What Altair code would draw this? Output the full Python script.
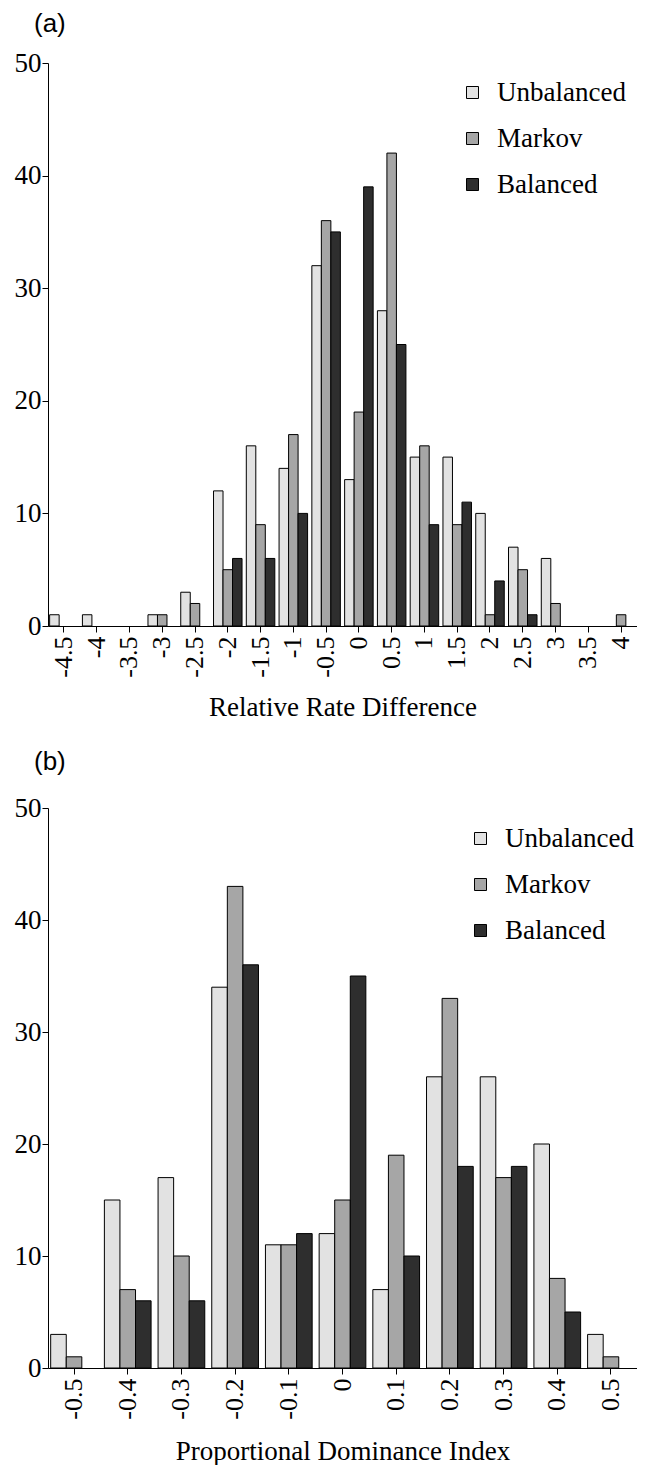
import altair as alt
import pandas as pd

series = ["Unbalanced", "Markov", "Balanced"]
colors = ["#e2e2e2", "#a6a6a6", "#2e2e2e"]

cats_a = ["-4.5", "-4", "-3.5", "-3", "-2.5", "-2", "-1.5", "-1", "-0.5",
          "0", "0.5", "1", "1.5", "2", "2.5", "3", "3.5", "4"]
unb_a = [1, 1, 0, 1, 3, 12, 16, 14, 32, 13, 28, 15, 15, 10, 7, 6, 0, 0]
mar_a = [0, 0, 0, 1, 2, 5, 9, 17, 36, 19, 42, 16, 9, 1, 5, 2, 0, 1]
bal_a = [0, 0, 0, 0, 0, 6, 6, 10, 35, 39, 25, 9, 11, 4, 1, 0, 0, 0]

cats_b = ["-0.5", "-0.4", "-0.3", "-0.2", "-0.1", "0", "0.1", "0.2", "0.3", "0.4", "0.5"]
unb_b = [3, 15, 17, 34, 11, 12, 7, 26, 26, 20, 3]
mar_b = [1, 7, 10, 43, 11, 15, 19, 33, 17, 8, 1]
bal_b = [0, 6, 6, 36, 12, 35, 10, 18, 18, 5, 0]

y_ticks = [0, 10, 20, 30, 40, 50]

SERIF = "Liberation Serif"
SANS = "Liberation Sans"
W = 589


def make_df(cats, u, m, b):
    rows = []
    for name, vals in zip(series, [u, m, b]):
        for c, v in zip(cats, vals):
            rows.append({"cat": c, "series": name, "count": v})
    return pd.DataFrame(rows)


def panel(cats, u, m, b, label, xtitle, height, legend_x, legend_y, title_pad, head_offset):
    df = make_df(cats, u, m, b)
    return (
        alt.Chart(df)
        .transform_filter("datum.count > 0")
        .mark_bar(stroke="black", strokeWidth=1, opacity=1)
        .encode(
            x=alt.X(
                "cat:N",
                sort=cats,
                scale=alt.Scale(domain=cats, paddingInner=0.13, paddingOuter=0.05),
                title=xtitle,
                axis=alt.Axis(
                    labelAngle=270,
                    labelFont=SERIF,
                    labelFontSize=26,
                    labelColor="black",
                    labelPadding=4,
                    tickSize=6,
                    tickColor="black",
                    domainColor="black",
                    titleFont=SERIF,
                    titleFontSize=27,
                    titleFontWeight="normal",
                    titleColor="black",
                    titlePadding=title_pad,
                ),
            ),
            xOffset=alt.XOffset("series:N", scale=alt.Scale(domain=series)),
            y=alt.Y(
                "count:Q",
                scale=alt.Scale(domain=[0, 50]),
                title=None,
                axis=alt.Axis(
                    values=y_ticks,
                    grid=False,
                    labelFont=SERIF,
                    labelFontSize=27,
                    labelColor="black",
                    labelPadding=1,
                    tickSize=6,
                    tickColor="black",
                    domainColor="black",
                ),
            ),
            color=alt.Color(
                "series:N",
                scale=alt.Scale(domain=series, range=colors),
                legend=alt.Legend(
                    title=None,
                    orient="none",
                    legendX=legend_x,
                    legendY=legend_y,
                    symbolType="square",
                    symbolSize=144,
                    symbolStrokeColor="black",
                    symbolStrokeWidth=1,
                    symbolOpacity=1,
                    labelFont=SERIF,
                    labelFontSize=27,
                    labelColor="black",
                    labelOffset=11,
                    rowPadding=18,
                    padding=0,
                ),
            ),
        )
        .properties(
            width=W,
            height=height,
            title=alt.TitleParams(
                label,
                anchor="start",
                frame="group",
                font=SANS,
                fontSize=26,
                fontWeight="normal",
                color="black",
                dx=-14,
                offset=head_offset,
            ),
        )
    )


chart_a = panel(cats_a, unb_a, mar_a, bal_a, "(a)", "Relative Rate Difference", 563, 411, 16, 17, 12)
chart_b = panel(cats_b, unb_b, mar_b, bal_b, "(b)", "Proportional Dominance Index", 560, 419, 17, 19, 19)

chart = (
    alt.vconcat(chart_a, chart_b, spacing=28)
    .resolve_scale(color="independent", x="independent", xOffset="independent")
    .resolve_legend(color="independent")
    .configure_view(stroke=None)
    .properties(padding={"left": 6, "top": 3, "right": 0, "bottom": 0})
)

chart.save("out.html", embed_options={"renderer": "svg", "actions": False})
